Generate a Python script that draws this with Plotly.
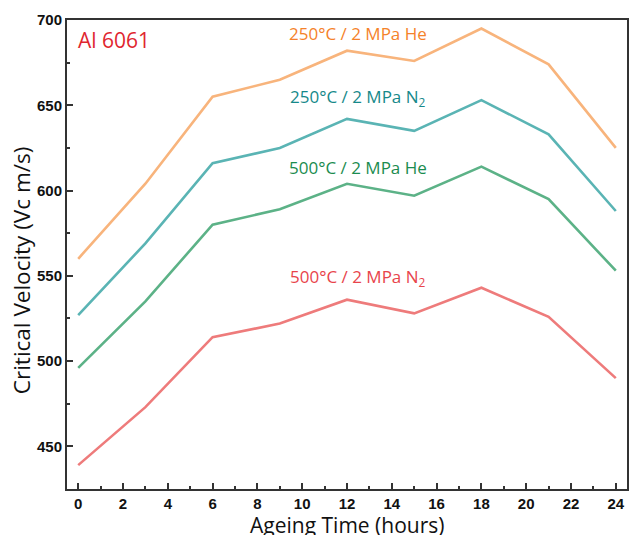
import plotly.graph_objects as go

hours = [0, 3, 6, 9, 12, 15, 18, 21, 24]
he_250 = [560, 604, 655, 665, 682, 676, 695, 674, 625]
n2_250 = [527, 569, 616, 625, 642, 635, 653, 633, 588]
he_500 = [496, 535, 580, 589, 604, 597, 614, 595, 553]
n2_500 = [439, 473, 514, 522, 536, 528, 543, 526, 490]

series = [
    ("250°C / 2 MPa He", he_250, "#f8b47c", "#f5822a", 692.3),
    ("250°C / 2 MPa N<sub>2</sub>", n2_250, "#5ab4b4", "#16898a", 654.8),
    ("500°C / 2 MPa He", he_500, "#5cb287", "#1b8c4f", 613.7),
    ("500°C / 2 MPa N<sub>2</sub>", n2_500, "#ee7b7b", "#e8444b", 549.2),
]

fig = go.Figure()
for name, vals, lc, tc, ly in series:
    fig.add_trace(go.Scatter(x=hours, y=vals, mode="lines", name=name,
                             line=dict(color=lc, width=2.6), showlegend=False))
    fig.add_annotation(x=12.5, y=ly, xref="x", yref="y", text=name, showarrow=False,
                       font=dict(family="Open Sans", size=17, color=tc))

fig.add_annotation(x=-0.12, y=688.3, xref="x", yref="y", text="Al 6061", showarrow=False,
                   xanchor="left", font=dict(family="Open Sans", size=21, color="#e0262f"))

fig.add_annotation(x=0.5, y=-0.077, xref="paper", yref="paper", yanchor="middle",
                   text="Ageing Time (hours)", showarrow=False,
                   font=dict(family="Open Sans", size=21, color="#111"))
fig.add_annotation(x=-0.08, y=0.467, xref="paper", yref="paper", xanchor="center",
                   text="Critical Velocity (Vc m/s)", showarrow=False, textangle=-90,
                   font=dict(family="Open Sans", size=22.5, color="#111"))

axis_common = dict(showgrid=False, zeroline=False, showline=True, linecolor="#333",
                   linewidth=2, mirror=True, ticks="inside", ticklen=6, tickwidth=1.5,
                   tickcolor="#333",
                   tickfont=dict(family="Liberation Sans", size=15, color="#111", weight="bold"))

fig.update_xaxes(range=[-0.5, 24.5], tickmode="array", tickvals=list(range(0, 25, 2)),
                 minor=dict(ticks="inside", ticklen=3, tickwidth=1.5, tickcolor="#333",
                            tickvals=list(range(1, 25, 2))),
                 **axis_common)
fig.update_yaxes(range=[425, 700], tickmode="array", tickvals=[450, 500, 550, 600, 650, 700],
                 minor=dict(ticks="inside", ticklen=3, tickwidth=1.5, tickcolor="#333",
                            tickvals=[475, 525, 575, 625, 675]),
                 **axis_common)

fig.update_layout(width=630, height=535, margin=dict(l=67, r=1, t=20, b=46),
                  plot_bgcolor="white", paper_bgcolor="white")

fig.write_html("out.html")
